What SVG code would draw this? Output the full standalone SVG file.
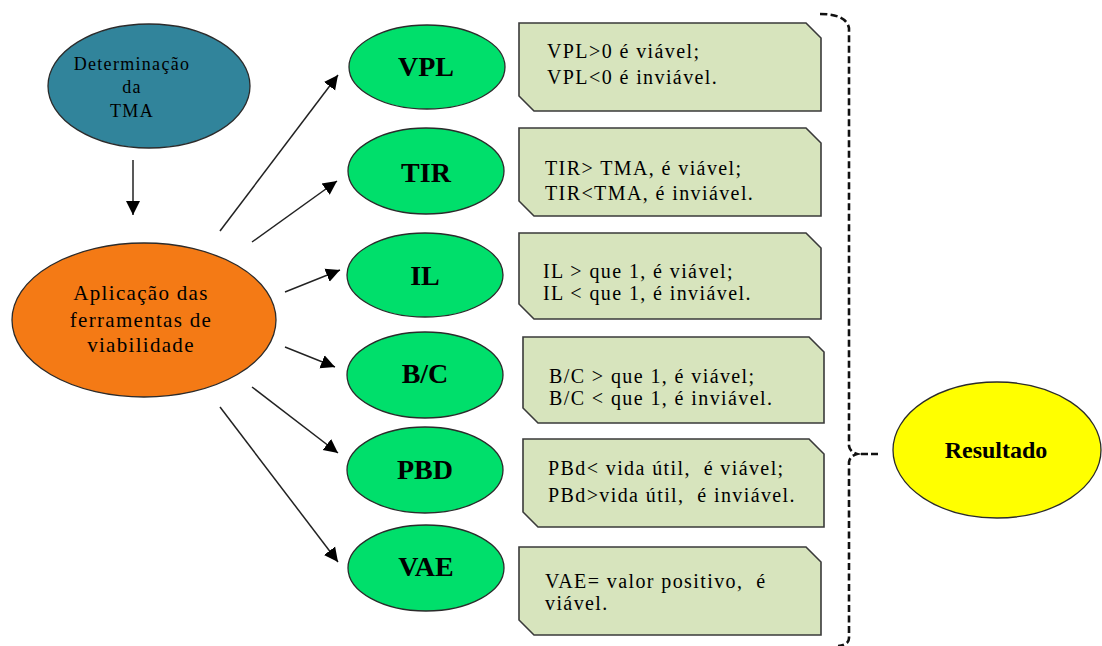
<svg xmlns="http://www.w3.org/2000/svg" width="1102" height="646" viewBox="0 0 1102 646">
<style>
.ell{stroke:#2b2b2b;stroke-width:1.3}
.box{fill:#D7E4BD;stroke:#3a3a3a;stroke-width:1.6}
text{font-family:'Liberation Serif','DejaVu Serif','Times New Roman',serif;fill:#000}
.small{font-size:18px;letter-spacing:1.3px}
.mid{font-size:21px;letter-spacing:1.3px}
.lab{font-size:28px;font-weight:bold}
.bt{font-size:20px;letter-spacing:1.4px}
.res{font-size:24px;font-weight:bold}
.conn{stroke:#222;stroke-width:1.5;fill:none}
.dash{stroke:#111;stroke-width:2.6;fill:none;stroke-dasharray:7 3.5}
</style>
<defs>
<marker id="ah" markerUnits="userSpaceOnUse" markerWidth="16" markerHeight="16" viewBox="0 0 16 16" refX="14" refY="8" orient="auto">
<path d="M0,1 L14,8 L0,15 Z" fill="#000"/>
</marker>
</defs>
<rect width="1102" height="646" fill="#fff"/>

<g id="connectors">
<line class="conn" x1="133" y1="160" x2="133" y2="215" marker-end="url(#ah)"/>
<line class="conn" x1="220" y1="231" x2="338" y2="75" marker-end="url(#ah)"/>
<line class="conn" x1="252" y1="242" x2="337" y2="181" marker-end="url(#ah)"/>
<line class="conn" x1="285" y1="292" x2="340" y2="270" marker-end="url(#ah)"/>
<line class="conn" x1="285" y1="347" x2="335" y2="367" marker-end="url(#ah)"/>
<line class="conn" x1="252" y1="387" x2="338" y2="453" marker-end="url(#ah)"/>
<line class="conn" x1="220" y1="407" x2="338" y2="562" marker-end="url(#ah)"/>
<path class="dash" d="M820,14 Q846,14 849,28 V446 Q850,452 857,454 Q850,456 849,462 V638 Q849,645 838,646"/>
<line class="dash" x1="861" y1="454" x2="879" y2="454" style="stroke-dasharray:7 3"/>
</g>

<g id="tma" font-family="Liberation Serif, serif">
<ellipse class="ell" cx="149" cy="86" rx="101" ry="62" fill="#31849B"/>
<text class="small" x="132" y="70" text-anchor="middle" font-family="Liberation Serif, serif">Determinação</text>
<text class="small" x="132" y="93" text-anchor="middle" font-family="Liberation Serif, serif">da</text>
<text class="small" x="132" y="117" text-anchor="middle" font-family="Liberation Serif, serif">TMA</text>
</g>

<g id="aplicacao">
<ellipse class="ell" cx="144" cy="320" rx="132" ry="77" fill="#F47A15"/>
<text class="mid" x="141" y="300" text-anchor="middle" font-family="Liberation Serif, serif">Aplicação das</text>
<text class="mid" x="141" y="327" text-anchor="middle" font-family="Liberation Serif, serif">ferramentas de</text>
<text class="mid" x="141" y="352" text-anchor="middle" font-family="Liberation Serif, serif">viabilidade</text>
</g>

<g id="vpl">
<ellipse class="ell" cx="427" cy="67" rx="78" ry="42" fill="#00DF6B"/>
<text class="lab" x="426" y="76" text-anchor="middle" font-family="Liberation Serif, serif">VPL</text>
</g>
<g id="tir">
<ellipse class="ell" cx="426" cy="171" rx="78" ry="43" fill="#00DF6B"/>
<text class="lab" x="426" y="182" text-anchor="middle" font-family="Liberation Serif, serif">TIR</text>
</g>
<g id="il">
<ellipse class="ell" cx="425" cy="275" rx="78" ry="42" fill="#00DF6B"/>
<text class="lab" x="425" y="285" text-anchor="middle" font-family="Liberation Serif, serif">IL</text>
</g>
<g id="bc">
<ellipse class="ell" cx="425" cy="375" rx="78" ry="43" fill="#00DF6B"/>
<text class="lab" x="425" y="383" text-anchor="middle" font-family="Liberation Serif, serif">B/C</text>
</g>
<g id="pbd">
<ellipse class="ell" cx="425" cy="470" rx="78" ry="43" fill="#00DF6B"/>
<text class="lab" x="425" y="479" text-anchor="middle" font-family="Liberation Serif, serif">PBD</text>
</g>
<g id="vae">
<ellipse class="ell" cx="426" cy="568" rx="78" ry="43" fill="#00DF6B"/>
<text class="lab" x="426" y="576" text-anchor="middle" font-family="Liberation Serif, serif">VAE</text>
</g>

<g id="box-vpl">
<path class="box" d="M519,23 H806 L821,38 V111 H534 L519,96 Z"/>
<text class="bt" x="547" y="58" font-family="Liberation Serif, serif">VPL&gt;0 é viável;</text>
<text class="bt" x="547" y="84" font-family="Liberation Serif, serif">VPL&lt;0 é inviável.</text>
</g>
<g id="box-tir">
<path class="box" d="M519,128 H806 L821,143 V216 H534 L519,201 Z"/>
<text class="bt" x="545" y="175" font-family="Liberation Serif, serif">TIR&gt; TMA, é viável;</text>
<text class="bt" x="545" y="200" font-family="Liberation Serif, serif">TIR&lt;TMA, é inviável.</text>
</g>
<g id="box-il">
<path class="box" d="M519,233 H806 L821,248 V319 H534 L519,304 Z"/>
<text class="bt" x="543" y="278" font-family="Liberation Serif, serif">IL &gt; que 1, é viável;</text>
<text class="bt" x="543" y="300" font-family="Liberation Serif, serif">IL &lt; que 1, é inviável.</text>
</g>
<g id="box-bc">
<path class="box" d="M523,337 H809 L824,352 V423 H538 L523,408 Z"/>
<text class="bt" x="549" y="383" font-family="Liberation Serif, serif">B/C &gt; que 1, é viável;</text>
<text class="bt" x="549" y="405" font-family="Liberation Serif, serif">B/C &lt; que 1, é inviável.</text>
</g>
<g id="box-pbd">
<path class="box" d="M523,439 H809 L824,454 V527 H538 L523,512 Z"/>
<text class="bt" x="548" y="475" xml:space="preserve" font-family="Liberation Serif, serif">PBd&lt; vida útil,  é viável;</text>
<text class="bt" x="548" y="502" xml:space="preserve" font-family="Liberation Serif, serif">PBd&gt;vida útil,  é inviável.</text>
</g>
<g id="box-vae">
<path class="box" d="M519,547 H806 L821,562 V635 H534 L519,620 Z"/>
<text class="bt" x="545" y="588" xml:space="preserve" font-family="Liberation Serif, serif">VAE= valor positivo,  é</text>
<text class="bt" x="545" y="610" font-family="Liberation Serif, serif">viável.</text>
</g>

<g id="resultado">
<ellipse class="ell" cx="997" cy="450" rx="104" ry="68" fill="#FFFF00"/>
<text class="res" x="996" y="458" text-anchor="middle" font-family="Liberation Serif, serif">Resultado</text>
</g>
</svg>
